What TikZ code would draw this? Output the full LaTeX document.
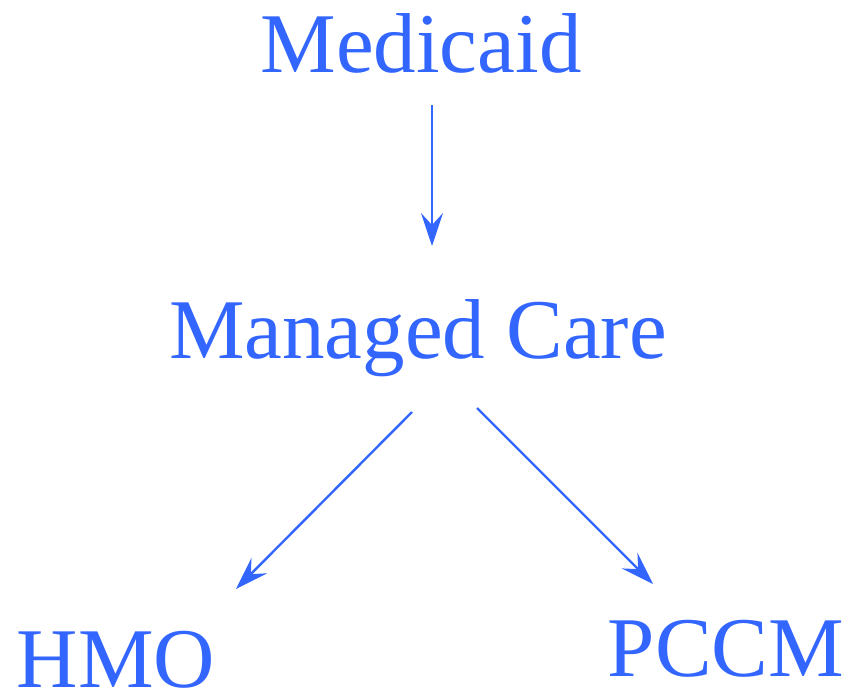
\documentclass[tikz,border=0pt]{standalone}
\usepackage{fontspec}
\setmainfont{Liberation Serif}
\usetikzlibrary{arrows.meta}
\definecolor{mblue}{HTML}{3366FF}
\begin{document}
\begin{tikzpicture}[x=1pt,y=-1pt,
  lbl/.style={text=mblue,font=\fontsize{85}{85}\selectfont,inner sep=0pt,anchor=base},
  conn/.style={draw=mblue,line width=2.4pt,-{Stealth[length=33pt,width=22pt,inset=12pt]}}]
\useasboundingbox (0,0) rectangle (849,696);
\node[lbl] (med) at (421,72) {Medicaid};
\node[lbl] (mc) at (418,358) {Managed Care};
\node[lbl] (hmo) at (116,687) {HMO};
\node[lbl] (pccm) at (726,676) {PCCM};
\coordinate (a1) at (432,105);
\coordinate (a2) at (432,246);
\coordinate (b1) at (412,412);
\coordinate (b2) at (236,589);
\coordinate (c1) at (477,408);
\coordinate (c2) at (653,584);
\draw[conn] (a1) -- (a2);
\draw[conn] (b1) -- (b2);
\draw[conn] (c1) -- (c2);
\end{tikzpicture}
\end{document}
